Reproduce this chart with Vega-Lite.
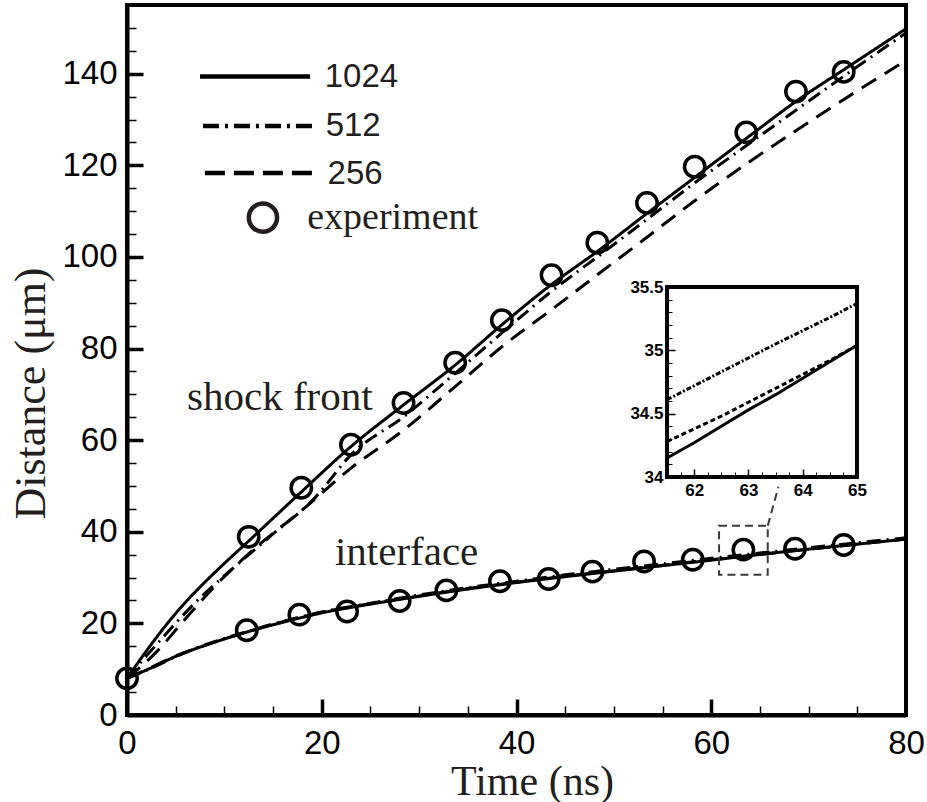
{
  "$schema": "https://vega.github.io/schema/vega-lite/v6.json",
  "width": 779,
  "height": 710,
  "autosize": "none",
  "padding": {"left": 127, "top": 5, "right": 21, "bottom": 87},
  "background": "white",
  "config": {
    "view": {"stroke": "black", "strokeWidth": 4},
    "axis": {"grid": false, "labelColor": "black", "domainColor": "black", "tickColor": "black", "labelOverlap": false, "labelBound": false, "labelFlush": false}
  },
  "datasets": {
    "sim": [
      {"t": 0, "d": 8, "res": "1024", "feature": "shock"},
      {"t": 2, "d": 14, "res": "1024", "feature": "shock"},
      {"t": 4, "d": 19.6, "res": "1024", "feature": "shock"},
      {"t": 6, "d": 24.6, "res": "1024", "feature": "shock"},
      {"t": 8, "d": 29, "res": "1024", "feature": "shock"},
      {"t": 10, "d": 33.1, "res": "1024", "feature": "shock"},
      {"t": 12.3, "d": 37.6, "res": "1024", "feature": "shock"},
      {"t": 17.8, "d": 48.5, "res": "1024", "feature": "shock"},
      {"t": 23, "d": 58.6, "res": "1024", "feature": "shock"},
      {"t": 28.4, "d": 67.7, "res": "1024", "feature": "shock"},
      {"t": 33.7, "d": 76.4, "res": "1024", "feature": "shock"},
      {"t": 38.5, "d": 85.2, "res": "1024", "feature": "shock"},
      {"t": 43.6, "d": 94, "res": "1024", "feature": "shock"},
      {"t": 48.3, "d": 101.2, "res": "1024", "feature": "shock"},
      {"t": 53.4, "d": 109.5, "res": "1024", "feature": "shock"},
      {"t": 58.2, "d": 117.2, "res": "1024", "feature": "shock"},
      {"t": 63.8, "d": 126.2, "res": "1024", "feature": "shock"},
      {"t": 68.8, "d": 134.1, "res": "1024", "feature": "shock"},
      {"t": 73.7, "d": 141, "res": "1024", "feature": "shock"},
      {"t": 80, "d": 149.8, "res": "1024", "feature": "shock"},
      {"t": 0, "d": 8, "res": "512", "feature": "shock"},
      {"t": 2.7, "d": 14.6, "res": "512", "feature": "shock"},
      {"t": 7, "d": 24.5, "res": "512", "feature": "shock"},
      {"t": 10.6, "d": 31.5, "res": "512", "feature": "shock"},
      {"t": 14.7, "d": 39, "res": "512", "feature": "shock"},
      {"t": 19.3, "d": 47.4, "res": "512", "feature": "shock"},
      {"t": 23, "d": 56.8, "res": "512", "feature": "shock"},
      {"t": 28.4, "d": 65.1, "res": "512", "feature": "shock"},
      {"t": 33.7, "d": 74.6, "res": "512", "feature": "shock"},
      {"t": 38.5, "d": 83.4, "res": "512", "feature": "shock"},
      {"t": 43.6, "d": 92.5, "res": "512", "feature": "shock"},
      {"t": 48.3, "d": 100, "res": "512", "feature": "shock"},
      {"t": 53.4, "d": 108.2, "res": "512", "feature": "shock"},
      {"t": 58.2, "d": 116, "res": "512", "feature": "shock"},
      {"t": 63.8, "d": 124.6, "res": "512", "feature": "shock"},
      {"t": 68.8, "d": 132.2, "res": "512", "feature": "shock"},
      {"t": 73.7, "d": 139.6, "res": "512", "feature": "shock"},
      {"t": 80, "d": 148.9, "res": "512", "feature": "shock"},
      {"t": 0, "d": 8, "res": "256", "feature": "shock"},
      {"t": 2.9, "d": 13.5, "res": "256", "feature": "shock"},
      {"t": 6, "d": 21, "res": "256", "feature": "shock"},
      {"t": 9.2, "d": 28.5, "res": "256", "feature": "shock"},
      {"t": 13.3, "d": 36.7, "res": "256", "feature": "shock"},
      {"t": 17.8, "d": 44.4, "res": "256", "feature": "shock"},
      {"t": 23, "d": 53.9, "res": "256", "feature": "shock"},
      {"t": 28.4, "d": 62.2, "res": "256", "feature": "shock"},
      {"t": 33.7, "d": 71.7, "res": "256", "feature": "shock"},
      {"t": 38.5, "d": 80.4, "res": "256", "feature": "shock"},
      {"t": 43.6, "d": 88.5, "res": "256", "feature": "shock"},
      {"t": 48.3, "d": 96.1, "res": "256", "feature": "shock"},
      {"t": 53.4, "d": 104.3, "res": "256", "feature": "shock"},
      {"t": 58.2, "d": 112.1, "res": "256", "feature": "shock"},
      {"t": 63.8, "d": 120.6, "res": "256", "feature": "shock"},
      {"t": 68.8, "d": 127.7, "res": "256", "feature": "shock"},
      {"t": 73.7, "d": 134.5, "res": "256", "feature": "shock"},
      {"t": 80, "d": 142.9, "res": "256", "feature": "shock"},
      {"t": 0, "d": 8, "res": "1024", "feature": "interface"},
      {"t": 2.7, "d": 10.5, "res": "1024", "feature": "interface"},
      {"t": 5, "d": 12.8, "res": "1024", "feature": "interface"},
      {"t": 7.2, "d": 14.6, "res": "1024", "feature": "interface"},
      {"t": 10, "d": 16.6, "res": "1024", "feature": "interface"},
      {"t": 12.3, "d": 18.1, "res": "1024", "feature": "interface"},
      {"t": 15, "d": 19.7, "res": "1024", "feature": "interface"},
      {"t": 17.8, "d": 21.2, "res": "1024", "feature": "interface"},
      {"t": 20, "d": 22.3, "res": "1024", "feature": "interface"},
      {"t": 25, "d": 24.2, "res": "1024", "feature": "interface"},
      {"t": 30, "d": 25.9, "res": "1024", "feature": "interface"},
      {"t": 35, "d": 27.5, "res": "1024", "feature": "interface"},
      {"t": 40, "d": 28.9, "res": "1024", "feature": "interface"},
      {"t": 45, "d": 30.2, "res": "1024", "feature": "interface"},
      {"t": 50, "d": 31.4, "res": "1024", "feature": "interface"},
      {"t": 55, "d": 32.6, "res": "1024", "feature": "interface"},
      {"t": 60, "d": 33.8, "res": "1024", "feature": "interface"},
      {"t": 65, "d": 35.05, "res": "1024", "feature": "interface"},
      {"t": 70, "d": 36.2, "res": "1024", "feature": "interface"},
      {"t": 75, "d": 37.3, "res": "1024", "feature": "interface"},
      {"t": 80, "d": 38.4, "res": "1024", "feature": "interface"},
      {"t": 0, "d": 8, "res": "512", "feature": "interface"},
      {"t": 2.7, "d": 10.4, "res": "512", "feature": "interface"},
      {"t": 5, "d": 12.7, "res": "512", "feature": "interface"},
      {"t": 7.2, "d": 14.7, "res": "512", "feature": "interface"},
      {"t": 10, "d": 16.7, "res": "512", "feature": "interface"},
      {"t": 12.3, "d": 18.2, "res": "512", "feature": "interface"},
      {"t": 15, "d": 19.9, "res": "512", "feature": "interface"},
      {"t": 17.8, "d": 21.4, "res": "512", "feature": "interface"},
      {"t": 20, "d": 22.5, "res": "512", "feature": "interface"},
      {"t": 25, "d": 24.4, "res": "512", "feature": "interface"},
      {"t": 30, "d": 26.2, "res": "512", "feature": "interface"},
      {"t": 35, "d": 27.8, "res": "512", "feature": "interface"},
      {"t": 40, "d": 29.2, "res": "512", "feature": "interface"},
      {"t": 45, "d": 30.6, "res": "512", "feature": "interface"},
      {"t": 50, "d": 31.8, "res": "512", "feature": "interface"},
      {"t": 55, "d": 33.0, "res": "512", "feature": "interface"},
      {"t": 60, "d": 34.2, "res": "512", "feature": "interface"},
      {"t": 65, "d": 35.37, "res": "512", "feature": "interface"},
      {"t": 70, "d": 36.5, "res": "512", "feature": "interface"},
      {"t": 75, "d": 37.6, "res": "512", "feature": "interface"},
      {"t": 80, "d": 38.7, "res": "512", "feature": "interface"},
      {"t": 0, "d": 8, "res": "256", "feature": "interface"},
      {"t": 2.7, "d": 10.6, "res": "256", "feature": "interface"},
      {"t": 5, "d": 12.9, "res": "256", "feature": "interface"},
      {"t": 7.2, "d": 14.6, "res": "256", "feature": "interface"},
      {"t": 10, "d": 16.6, "res": "256", "feature": "interface"},
      {"t": 12.3, "d": 18.1, "res": "256", "feature": "interface"},
      {"t": 15, "d": 19.8, "res": "256", "feature": "interface"},
      {"t": 17.8, "d": 21.3, "res": "256", "feature": "interface"},
      {"t": 20, "d": 22.4, "res": "256", "feature": "interface"},
      {"t": 25, "d": 24.3, "res": "256", "feature": "interface"},
      {"t": 30, "d": 26.0, "res": "256", "feature": "interface"},
      {"t": 35, "d": 27.6, "res": "256", "feature": "interface"},
      {"t": 40, "d": 29.0, "res": "256", "feature": "interface"},
      {"t": 45, "d": 30.3, "res": "256", "feature": "interface"},
      {"t": 50, "d": 31.5, "res": "256", "feature": "interface"},
      {"t": 55, "d": 32.7, "res": "256", "feature": "interface"},
      {"t": 60, "d": 33.9, "res": "256", "feature": "interface"},
      {"t": 65, "d": 35.05, "res": "256", "feature": "interface"},
      {"t": 70, "d": 36.2, "res": "256", "feature": "interface"},
      {"t": 75, "d": 37.3, "res": "256", "feature": "interface"},
      {"t": 80, "d": 38.4, "res": "256", "feature": "interface"}
    ],
    "exp": [
      {"t": 0, "d": 8, "feature": "interface"},
      {"t": 12.5, "d": 38.9, "feature": "shock"},
      {"t": 17.9, "d": 49.6, "feature": "shock"},
      {"t": 23, "d": 59, "feature": "shock"},
      {"t": 28.4, "d": 68.1, "feature": "shock"},
      {"t": 33.7, "d": 76.9, "feature": "shock"},
      {"t": 38.5, "d": 86.2, "feature": "shock"},
      {"t": 43.6, "d": 96, "feature": "shock"},
      {"t": 48.3, "d": 103.1, "feature": "shock"},
      {"t": 53.4, "d": 111.8, "feature": "shock"},
      {"t": 58.3, "d": 119.7, "feature": "shock"},
      {"t": 63.6, "d": 127.2, "feature": "shock"},
      {"t": 68.7, "d": 136.1, "feature": "shock"},
      {"t": 73.6, "d": 140.4, "feature": "shock"},
      {"t": 12.3, "d": 18.5, "feature": "interface"},
      {"t": 17.7, "d": 21.9, "feature": "interface"},
      {"t": 22.6, "d": 22.6, "feature": "interface"},
      {"t": 28, "d": 24.9, "feature": "interface"},
      {"t": 32.8, "d": 27.2, "feature": "interface"},
      {"t": 38.3, "d": 29.2, "feature": "interface"},
      {"t": 43.3, "d": 29.7, "feature": "interface"},
      {"t": 47.8, "d": 31.3, "feature": "interface"},
      {"t": 53.1, "d": 33.5, "feature": "interface"},
      {"t": 58.1, "d": 33.9, "feature": "interface"},
      {"t": 63.3, "d": 36.1, "feature": "interface"},
      {"t": 68.6, "d": 36.3, "feature": "interface"},
      {"t": 73.6, "d": 37.1, "feature": "interface"}
    ],
    "legendLines": [
      {"x1": 7.5, "x2": 18.8, "y": 139.4, "res": "1024"},
      {"x1": 7.8, "x2": 19.1, "y": 128.6, "res": "512"},
      {"x1": 8.0, "x2": 19.3, "y": 118.3, "res": "256"}
    ],
    "legendSans": [
      {"x": 20.3, "y": 137.1, "label": "1024"},
      {"x": 20.4, "y": 126.4, "label": "512"},
      {"x": 20.6, "y": 115.9, "label": "256"}
    ],
    "legendPoint": [{"x": 13.96, "y": 108.6}],
    "serifText": [
      {"x": 18.5, "y": 106.2, "label": "experiment", "size": 38},
      {"x": 6.16, "y": 66.6, "label": "shock front", "size": 41},
      {"x": 21.35, "y": 32.75, "label": "interface", "size": 41}
    ],
    "zoomBox": [{"x1": 60.8, "x2": 65.8, "y1": 30.6, "y2": 41.3}],
    "connector": [{"x1": 65.8, "y1": 41.3, "x2": 66.9, "y2": 49.8}],
    "insetBox": [{"x1": 61.5, "x2": 65, "y1": 34, "y2": 35.5}],
    "inset": [
      {"t": 61.5, "d": 34.15, "res": "1024"},
      {"t": 62, "d": 34.27, "res": "1024"},
      {"t": 62.5, "d": 34.4, "res": "1024"},
      {"t": 63, "d": 34.53, "res": "1024"},
      {"t": 63.5, "d": 34.65, "res": "1024"},
      {"t": 64, "d": 34.78, "res": "1024"},
      {"t": 64.5, "d": 34.91, "res": "1024"},
      {"t": 65, "d": 35.04, "res": "1024"},
      {"t": 61.5, "d": 34.28, "res": "256"},
      {"t": 62, "d": 34.38, "res": "256"},
      {"t": 62.5, "d": 34.48, "res": "256"},
      {"t": 63, "d": 34.59, "res": "256"},
      {"t": 63.5, "d": 34.7, "res": "256"},
      {"t": 64, "d": 34.81, "res": "256"},
      {"t": 64.5, "d": 34.92, "res": "256"},
      {"t": 65, "d": 35.04, "res": "256"},
      {"t": 61.5, "d": 34.61, "res": "512"},
      {"t": 62.5, "d": 34.83, "res": "512"},
      {"t": 63.5, "d": 35.05, "res": "512"},
      {"t": 64.5, "d": 35.26, "res": "512"},
      {"t": 65, "d": 35.37, "res": "512"}
    ]
  },
  "layer": [
    {
      "data": {"name": "sim"},
      "mark": {"type": "line", "strokeWidth": 3, "color": "black", "clip": true, "interpolate": "monotone"},
      "encoding": {
        "x": {"field": "t", "type": "quantitative", "scale": {"domain": [0, 80], "nice": false, "zero": false},
          "axis": {"orient": "bottom", "values": [0, 20, 40, 60, 80], "ticks": false, "domainWidth": 4, "labelFont": "Liberation Sans", "labelFontSize": 33, "labelPadding": 12, "title": "Time (ns)", "titleFont": "Liberation Serif", "titleFontSize": 42, "titleFontWeight": "normal", "titleColor": "#231f20", "titlePadding": 1, "titleX": 405}},
        "y": {"field": "d", "type": "quantitative", "scale": {"domain": [0, 155], "nice": false, "zero": false},
          "axis": {"orient": "left", "values": [0, 20, 40, 60, 80, 100, 120, 140], "ticks": false, "domainWidth": 4, "labelFont": "Liberation Sans", "labelFontSize": 33, "labelPadding": 10, "title": "Distance (μm)", "titleFont": "Liberation Serif", "titleFontSize": 44, "titleFontWeight": "normal", "titleColor": "#231f20", "titlePadding": 8, "titleY": 388}},
        "strokeDash": {"field": "res", "type": "nominal", "scale": {"domain": ["1024", "512", "256"], "range": [[1, 0], [14, 6, 2, 6], [17, 10]]}, "legend": null},
        "detail": {"field": "feature", "type": "nominal"}
      }
    },
    {
      "data": {"name": "exp"},
      "mark": {"type": "point", "shape": "circle", "filled": false, "size": 415, "strokeWidth": 3.5, "color": "black", "opacity": 1},
      "encoding": {
        "x": {"field": "t", "type": "quantitative", "scale": {"domain": [0, 80], "nice": false, "zero": false},
          "axis": {"orient": "bottom", "offset": -16, "values": [20, 40, 60], "labels": false, "domain": false, "ticks": true, "tickSize": 16, "tickWidth": 3.5, "title": null}},
        "y": {"field": "d", "type": "quantitative", "scale": {"domain": [0, 155], "nice": false, "zero": false},
          "axis": {"orient": "left", "offset": -16, "values": [20, 40, 60, 80, 100, 120, 140], "labels": false, "domain": false, "ticks": true, "tickSize": 16, "tickWidth": 3.5, "title": null}}
      }
    },
    {
      "data": {"name": "legendLines"},
      "mark": {"type": "rule", "strokeWidth": 4.5, "color": "black"},
      "encoding": {
        "x": {"field": "x1", "type": "quantitative", "scale": {"domain": [0, 80], "nice": false, "zero": false},
          "axis": {"orient": "bottom", "offset": -9, "values": [5, 10, 15, 25, 30, 35, 45, 50, 55, 65, 70, 75], "labels": false, "domain": false, "ticks": true, "tickSize": 9, "tickWidth": 1.5, "title": null}},
        "x2": {"field": "x2"},
        "y": {"field": "y", "type": "quantitative", "scale": {"domain": [0, 155], "nice": false, "zero": false},
          "axis": {"orient": "left", "offset": -9, "values": [5, 10, 15, 25, 30, 35, 45, 50, 55, 65, 70, 75, 85, 90, 95, 105, 110, 115, 125, 130, 135, 145, 150], "labels": false, "domain": false, "ticks": true, "tickSize": 9, "tickWidth": 1.5, "title": null}},
        "strokeDash": {"field": "res", "type": "nominal", "scale": {"domain": ["1024", "512", "256"], "range": [[1, 0], [16, 6, 3, 6], [20, 9]]}, "legend": null}
      }
    },
    {
      "data": {"name": "legendPoint"},
      "mark": {"type": "point", "shape": "circle", "filled": false, "size": 800, "strokeWidth": 4.5, "color": "#231f20", "opacity": 1},
      "encoding": {
        "x": {"field": "x", "type": "quantitative", "scale": {"domain": [0, 80], "nice": false, "zero": false}, "axis": null},
        "y": {"field": "y", "type": "quantitative", "scale": {"domain": [0, 155], "nice": false, "zero": false}, "axis": null}
      }
    },
    {
      "data": {"name": "legendSans"},
      "mark": {"type": "text", "align": "left", "baseline": "alphabetic", "font": "Liberation Sans", "fontSize": 33, "color": "#231f20"},
      "encoding": {
        "x": {"field": "x", "type": "quantitative", "scale": {"domain": [0, 80], "nice": false, "zero": false}, "axis": null},
        "y": {"field": "y", "type": "quantitative", "scale": {"domain": [0, 155], "nice": false, "zero": false}, "axis": null},
        "text": {"field": "label"}
      }
    },
    {
      "data": {"name": "serifText"},
      "mark": {"type": "text", "align": "left", "baseline": "alphabetic", "font": "Liberation Serif", "color": "#231f20"},
      "encoding": {
        "x": {"field": "x", "type": "quantitative", "scale": {"domain": [0, 80], "nice": false, "zero": false}, "axis": null},
        "y": {"field": "y", "type": "quantitative", "scale": {"domain": [0, 155], "nice": false, "zero": false}, "axis": null},
        "text": {"field": "label"},
        "size": {"field": "size", "type": "quantitative", "scale": null, "legend": null}
      }
    },
    {
      "data": {"name": "zoomBox"},
      "mark": {"type": "rect", "fill": null, "fillOpacity": 0, "stroke": "#3a3a3a", "strokeWidth": 2, "strokeDash": [8, 5]},
      "encoding": {
        "x": {"field": "x1", "type": "quantitative", "scale": {"domain": [0, 80], "nice": false, "zero": false}, "axis": null},
        "x2": {"field": "x2"},
        "y": {"field": "y1", "type": "quantitative", "scale": {"domain": [0, 155], "nice": false, "zero": false}, "axis": null},
        "y2": {"field": "y2"}
      }
    },
    {
      "data": {"name": "connector"},
      "mark": {"type": "rule", "stroke": "#3a3a3a", "strokeWidth": 2, "strokeDash": [8, 5]},
      "encoding": {
        "x": {"field": "x1", "type": "quantitative", "scale": {"domain": [0, 80], "nice": false, "zero": false}, "axis": null},
        "y": {"field": "y1", "type": "quantitative", "scale": {"domain": [0, 155], "nice": false, "zero": false}, "axis": null},
        "x2": {"field": "x2"},
        "y2": {"field": "y2"}
      }
    },
    {
      "data": {"name": "insetBox"},
      "mark": {"type": "rect", "fill": "white", "stroke": "black", "strokeWidth": 4},
      "encoding": {
        "x": {"field": "x1", "type": "quantitative", "scale": {"domain": [51.5526, 65.9026], "nice": false, "zero": false},
          "axis": {"orient": "bottom", "offset": -238, "values": [62, 63, 64, 65], "domain": false, "ticks": false, "labelFont": "Liberation Sans", "labelFontWeight": "bold", "labelFontSize": 17, "labelPadding": 5, "format": "d", "title": null}},
        "x2": {"field": "x2"},
        "y": {"field": "y1", "type": "quantitative", "scale": {"domain": [32.1211, 37.7263], "nice": false, "zero": false},
          "axis": {"orient": "left", "offset": -540, "values": [34, 34.5, 35, 35.5], "domain": false, "ticks": false, "labelFont": "Liberation Sans", "labelFontWeight": "bold", "labelFontSize": 17, "labelPadding": 4, "format": ".1~f", "title": null}},
        "y2": {"field": "y2"}
      }
    },
    {
      "data": {"name": "inset"},
      "transform": [{"filter": "datum.res == '1024'"}],
      "mark": {"type": "line", "strokeWidth": 3, "color": "black"},
      "encoding": {
        "x": {"field": "t", "type": "quantitative", "scale": {"domain": [51.5526, 65.9026], "nice": false, "zero": false},
          "axis": {"orient": "bottom", "offset": -246, "values": [62, 63, 64], "labels": false, "domain": false, "ticks": true, "tickSize": 8, "tickWidth": 1.5, "title": null, "zindex": 3}},
        "y": {"field": "d", "type": "quantitative", "scale": {"domain": [32.1211, 37.7263], "nice": false, "zero": false},
          "axis": {"orient": "left", "offset": -548, "values": [34.5, 35], "labels": false, "domain": false, "ticks": true, "tickSize": 8, "tickWidth": 1.5, "title": null, "zindex": 3}}
      }
    },
    {
      "data": {"name": "inset"},
      "transform": [{"filter": "datum.res != '1024'"}],
      "mark": {"type": "line", "strokeWidth": 3, "color": "black"},
      "encoding": {
        "x": {"field": "t", "type": "quantitative", "scale": {"domain": [51.5526, 65.9026], "nice": false, "zero": false},
          "axis": {"orient": "bottom", "offset": -243, "values": [61.75, 62.25, 62.5, 62.75, 63.25, 63.5, 63.75, 64.25, 64.5, 64.75], "labels": false, "domain": false, "ticks": true, "tickSize": 5, "tickWidth": 1, "title": null, "zindex": 3}},
        "y": {"field": "d", "type": "quantitative", "scale": {"domain": [32.1211, 37.7263], "nice": false, "zero": false},
          "axis": {"orient": "left", "offset": -545, "values": [34.1, 34.2, 34.3, 34.4, 34.6, 34.7, 34.8, 34.9, 35.1, 35.2, 35.3, 35.4], "labels": false, "domain": false, "ticks": true, "tickSize": 5, "tickWidth": 1, "title": null, "zindex": 3}},
        "strokeDash": {"field": "res", "type": "nominal", "scale": {"domain": ["512", "256"], "range": [[5, 2, 2, 2], [5, 3]]}, "legend": null}
      }
    }
  ],
  "resolve": {"scale": {"x": "independent", "y": "independent", "strokeDash": "independent"}, "axis": {"x": "independent", "y": "independent"}}
}
